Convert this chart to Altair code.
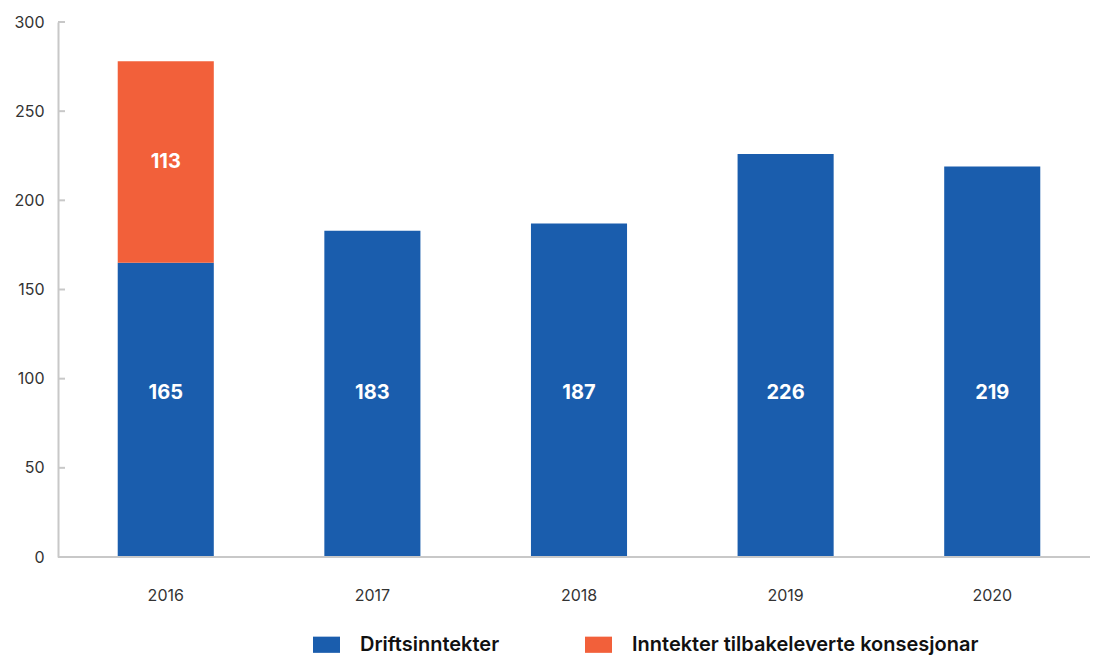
import altair as alt
import pandas as pd

years = ["2016", "2017", "2018", "2019", "2020"]
drift = [165, 183, 187, 226, 219]
konsesjon = [113, None, None, None, None]
series_names = ["Driftsinntekter", "Inntekter tilbakeleverte konsesjonar"]
colors = ["#1A5DAD", "#F2603A"]
y_ticks = [0, 50, 100, 150, 200, 250, 300]
drift_label_y = 92

rows = []
for i, yr in enumerate(years):
    rows.append({"year": yr, "series": series_names[0], "value": drift[i], "order": 0,
                 "labely": drift_label_y})
    if konsesjon[i] is not None:
        rows.append({"year": yr, "series": series_names[1], "value": konsesjon[i], "order": 1,
                     "labely": drift[i] + konsesjon[i] / 2})
df = pd.DataFrame(rows)

FONT = "Inter"
W, H = 1032, 535

x_scale = alt.Scale(paddingInner=0.535, paddingOuter=0.26, range=[6, 1036])
x_enc = alt.X("year:N", title=None, sort=years, scale=x_scale,
              axis=alt.Axis(labelAngle=0, labelFontSize=16, labelColor="#333333",
                            labelPadding=30, ticks=False, domain=False,
                            labelFont=FONT))
y_scale = alt.Scale(domain=[0, 300], nice=False)

bars = alt.Chart(df).mark_bar().encode(
    x=x_enc,
    y=alt.Y("value:Q", stack="zero", title=None, scale=y_scale,
            axis=alt.Axis(values=y_ticks, grid=False, ticks=False, labelFontSize=16,
                          labelColor="#333333", labelPadding=14, domainColor="#C8C8C8",
                          domainWidth=2, labelFont=FONT)),
    color=alt.Color("series:N", scale=alt.Scale(domain=series_names, range=colors),
                    legend=alt.Legend(title=None, orient="none", direction="horizontal",
                                      legendX=255, legendY=609,
                                      symbolType="M-1,-0.6H1V0.6H-1Z",
                                      symbolSize=729, symbolStrokeWidth=0,
                                      labelFontSize=20, labelFont=FONT,
                                      labelFontWeight=600, labelColor="#111111",
                                      labelLimit=0, columnPadding=85, labelOffset=20)),
    order=alt.Order("order:Q"),
)

labels = alt.Chart(df).mark_text(color="white", fontSize=20, fontWeight="bold",
                                 font=FONT, baseline="middle").encode(
    x=alt.X("year:N", sort=years, scale=x_scale),
    y=alt.Y("labely:Q", scale=y_scale),
    text=alt.Text("value:Q"),
)

tick_df = pd.DataFrame({"t": y_ticks})
ticks = alt.Chart(tick_df).mark_rule(color="#C8C8C8", strokeWidth=2).encode(
    x=alt.value(0), x2=alt.value(7), y=alt.Y("t:Q", scale=y_scale)
)

base_df = pd.DataFrame({"t": [0]})
xdomain = alt.Chart(base_df).mark_rule(color="#C8C8C8", strokeWidth=2).encode(
    x=alt.value(0), x2=alt.value(W), y=alt.Y("t:Q", scale=y_scale)
)

chart = alt.layer(bars, labels, ticks, xdomain).properties(
    width=W, height=H,
    autosize=alt.AutoSizeParams(type="none"),
    padding={"left": 50, "top": 14, "right": 0, "bottom": 98},
).configure(font=FONT).configure_view(stroke=None)

chart.save("out.html", embed_options={"renderer": "svg", "actions": False})
